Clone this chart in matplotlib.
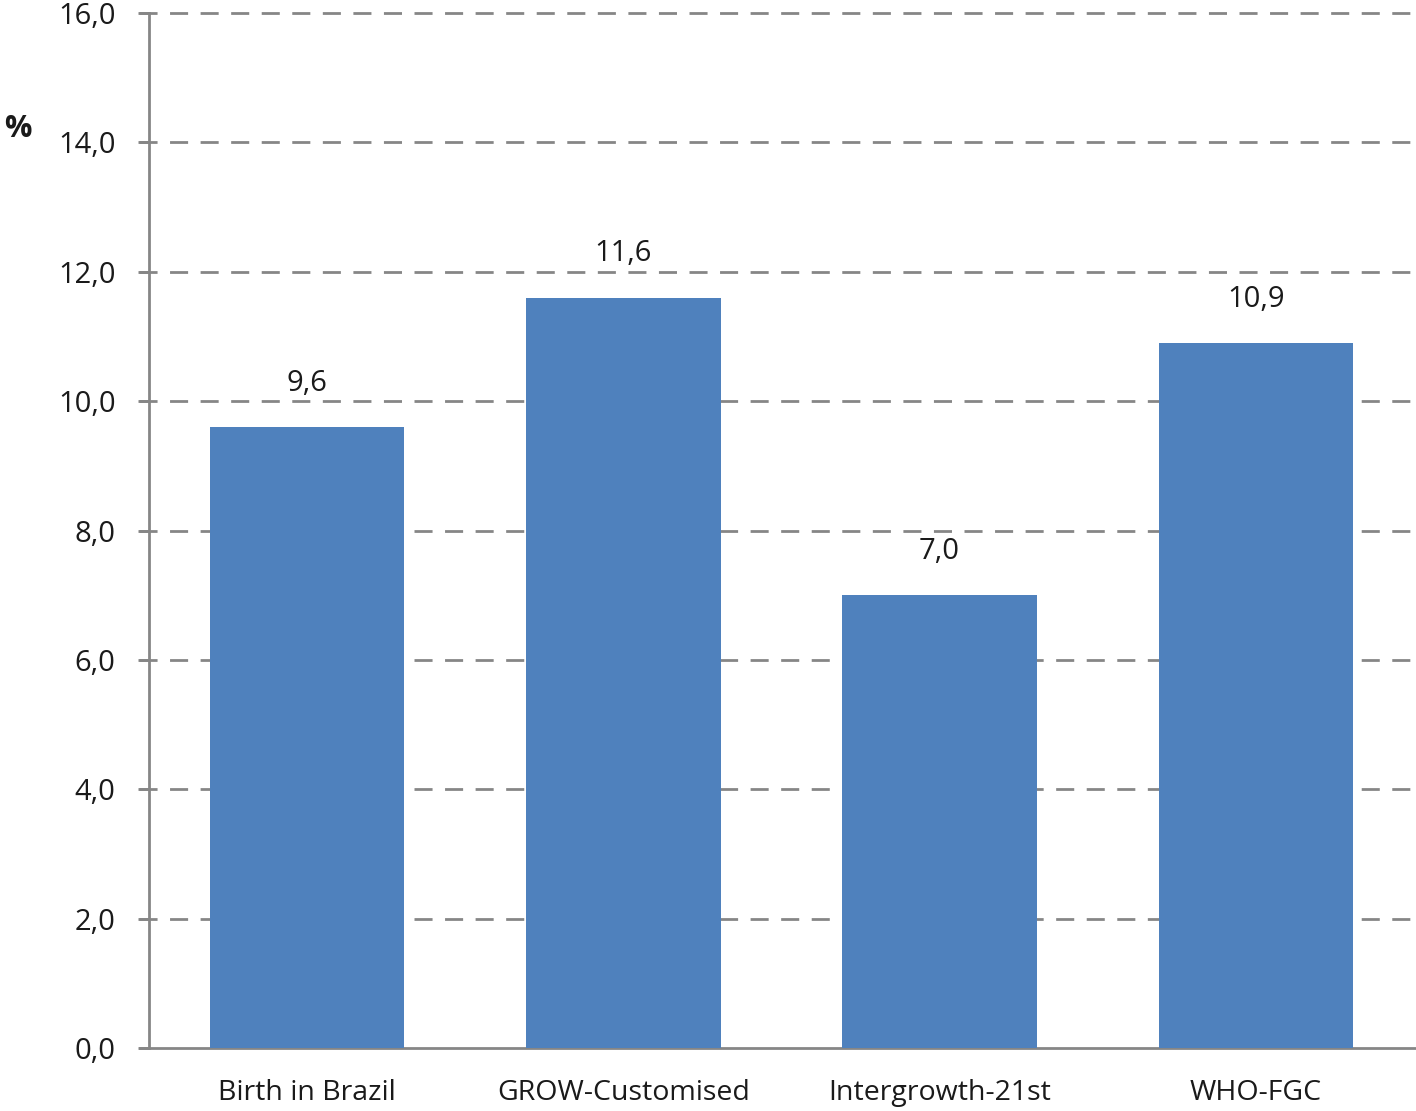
import matplotlib
matplotlib.use("Agg")
import matplotlib.pyplot as plt
import numpy as np

# data
categories = ["Birth in Brazil", "GROW-Customised", "Intergrowth-21st", "WHO-FGC"]
values = [9.6, 11.6, 7.0, 10.9]
yticks = [0, 2, 4, 6, 8, 10, 12, 14, 16]

plt.rcParams['font.family'] = ['Open Sans', 'DejaVu Sans']

fig = plt.figure(figsize=(14.16, 11.11), dpi=100)
ax = fig.add_axes([149 / 1416, 1 - 1048 / 1111, (1414 - 149) / 1416, (1048 - 13) / 1111])

grey = '#868686'
x = np.arange(len(categories))
ax.bar(x, values, width=0.615, color='#4F81BD', zorder=3)

# value labels above bars
for xi, v in zip(x, values):
    ax.annotate(f"{v:.1f}".replace('.', ','), (xi, v), xytext=(0, 21),
                textcoords='offset points', ha='center', va='bottom',
                fontsize=21, color='#1a1a1a')

ax.set_xlim(-0.5, len(categories) - 0.5)
ax.set_ylim(0, 16)
ax.set_yticks(yticks)
ax.set_yticklabels([f"{t:.1f}".replace('.', ',') for t in yticks])
ax.set_xticks(x)
ax.set_xticklabels(categories)

# dashed gridlines (drawn past the spine like the original)
for t in yticks[1:]:
    ax.plot([-0.008, 1.002], [t / 16, t / 16], transform=ax.transAxes, clip_on=False,
            color=grey, lw=2, ls=(0, (6.5, 4.5)), zorder=1)

for s in ['top', 'right']:
    ax.spines[s].set_visible(False)
ax.spines['left'].set_color(grey)
ax.spines['left'].set_linewidth(2)
ax.spines['bottom'].set_color(grey)
ax.spines['bottom'].set_linewidth(2)
ax.spines['bottom'].set_bounds(-0.53, len(categories) - 0.49)

ax.tick_params(axis='y', length=8, width=2, color=grey, labelsize=21,
               labelcolor='#1a1a1a', pad=16)
ax.tick_params(axis='x', length=0, labelsize=20.5, labelcolor='#1a1a1a', pad=22)

fig.text(4 / 1416, 1 - 129 / 1111, '%', fontsize=22, fontweight='bold',
         ha='left', va='center', color='#1a1a1a')

fig.savefig('out.png', dpi=100)
